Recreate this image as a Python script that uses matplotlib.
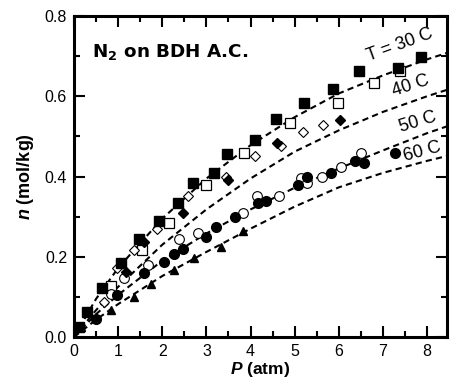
import matplotlib
matplotlib.use("Agg")
import matplotlib.pyplot as plt
from matplotlib.ticker import MultipleLocator

plt.rcParams['font.family'] = ['Liberation Sans', 'DejaVu Sans']
plt.rcParams['mathtext.fontset'] = 'custom'
plt.rcParams['mathtext.bf'] = 'DejaVu Sans:bold'
plt.rcParams['mathtext.bfit'] = 'Liberation Sans:italic:bold'

# 30 C filled squares
sq_f_x = [0.11, 0.30, 0.64, 1.06, 1.48, 1.93, 2.35, 2.69, 3.18, 3.47, 4.11, 4.58, 5.20, 5.86, 6.46, 7.35, 7.86]
sq_f_y = [0.026, 0.063, 0.122, 0.184, 0.245, 0.288, 0.334, 0.383, 0.409, 0.455, 0.491, 0.543, 0.583, 0.618, 0.663, 0.670, 0.699]
# open squares
sq_o_x = [0.83, 1.55, 2.16, 3.00, 3.85, 4.90, 5.98, 6.80, 7.39]
sq_o_y = [0.126, 0.218, 0.284, 0.378, 0.458, 0.534, 0.583, 0.634, 0.663]
# open diamonds
di_o_x = [0.67, 0.98, 1.35, 1.88, 2.59, 3.45, 4.10, 4.70, 5.18, 5.64]
di_o_y = [0.088, 0.172, 0.218, 0.269, 0.352, 0.399, 0.451, 0.476, 0.511, 0.528]
# filled diamonds
di_f_x = [1.17, 1.59, 2.48, 3.50, 4.60, 6.02]
di_f_y = [0.163, 0.238, 0.309, 0.391, 0.483, 0.540]
# open circles
ci_o_x = [0.83, 1.14, 1.67, 2.39, 2.80, 3.84, 4.14, 4.64, 5.14, 5.28, 5.63, 6.06, 6.50]
ci_o_y = [0.107, 0.147, 0.180, 0.244, 0.259, 0.308, 0.351, 0.351, 0.397, 0.383, 0.400, 0.423, 0.459]
# filled circles
ci_f_x = [0.49, 0.98, 1.59, 2.03, 2.27, 2.48, 2.99, 3.22, 3.65, 4.18, 4.35, 5.07, 5.28, 5.82, 6.36, 6.57, 7.27]
ci_f_y = [0.046, 0.105, 0.159, 0.188, 0.208, 0.220, 0.250, 0.274, 0.299, 0.333, 0.338, 0.379, 0.400, 0.408, 0.438, 0.434, 0.458]
# filled triangles
tr_x = [0.15, 0.83, 1.35, 1.74, 2.26, 2.73, 3.33, 3.84]
tr_y = [0.026, 0.067, 0.100, 0.133, 0.168, 0.196, 0.224, 0.264]

# fitted curves
fit_x = [0, 0.5, 1, 2, 3, 4, 5, 6, 7, 8, 8.45]
fit_30 = [0, 0.095, 0.172, 0.295, 0.395, 0.478, 0.548, 0.607, 0.652, 0.692, 0.708]
fit_40 = [0, 0.067, 0.125, 0.230, 0.318, 0.395, 0.462, 0.515, 0.561, 0.600, 0.616]
fit_50 = [0, 0.057, 0.105, 0.190, 0.258, 0.318, 0.372, 0.420, 0.465, 0.508, 0.525]
fit_60 = [0, 0.043, 0.082, 0.152, 0.212, 0.270, 0.325, 0.373, 0.409, 0.439, 0.451]

labels = ["T = 30 C", "40 C", "50 C", "60 C"]
label_x = [7.39, 7.62, 7.80, 7.90]
label_y = [0.728, 0.625, 0.535, 0.462]
label_rot = [20, 18, 17, 15]

fig = plt.figure(figsize=(4.51, 3.85), dpi=100)
ax = fig.add_axes([0.1641, 0.1247, 0.8269, 0.8337])

for fy in [fit_30, fit_40, fit_50, fit_60]:
    ax.plot(fit_x, fy, color='black', lw=1.5, linestyle=(0, (3, 2)), zorder=2)

ax.plot(sq_o_x, sq_o_y, 's', ms=6.5, mfc='white', mec='black', mew=0.9, ls='none', zorder=3)
ax.plot(di_o_x, di_o_y, 'D', ms=4.8, mfc='white', mec='black', mew=0.8, ls='none', zorder=3)
ax.plot(ci_o_x, ci_o_y, 'o', ms=7, mfc='white', mec='black', mew=0.8, ls='none', zorder=3)
ax.plot(sq_f_x, sq_f_y, 's', ms=7, color='black', ls='none', zorder=4)
ax.plot(di_f_x, di_f_y, 'D', ms=5, color='black', ls='none', zorder=4)
ax.plot(ci_f_x, ci_f_y, 'o', ms=7, color='black', ls='none', zorder=4)
ax.plot(tr_x, tr_y, '^', ms=6, color='black', ls='none', zorder=4)

for t, lx, ly, r in zip(labels, label_x, label_y, label_rot):
    ax.text(lx, ly, t, fontsize=13, rotation=r, ha='center', va='center', zorder=5)

ax.text(0.048, 0.872, r'N$_\mathbf{2}$ on BDH A.C.', transform=ax.transAxes,
        fontsize=13.2, fontweight='bold', family='DejaVu Sans', va='baseline')

ax.set_xlim(0, 8.45)
ax.set_ylim(0, 0.8)
ax.xaxis.set_major_locator(MultipleLocator(1))
ax.xaxis.set_minor_locator(MultipleLocator(0.5))
ax.yaxis.set_major_locator(MultipleLocator(0.2))
ax.yaxis.set_minor_locator(MultipleLocator(0.1))
ax.yaxis.set_major_formatter(plt.FormatStrFormatter('%.1f'))
ax.tick_params(which='both', direction='in', top=True, right=True, width=1.5, labelsize=11.5)
ax.tick_params(which='major', length=8)
ax.tick_params(which='minor', length=4)
ax.tick_params(axis='x', which='major', pad=5)
ax.tick_params(axis='y', which='major', pad=5)
for s in ax.spines.values():
    s.set_linewidth(2.2)

ax.set_xlabel(r'$\mathbfit{P}$ (atm)', fontsize=12.5, fontweight='bold', labelpad=1)
ax.set_ylabel(r'$\mathbfit{n}$ (mol/kg)', fontsize=13, fontweight='bold', labelpad=6)

fig.savefig('out.png', dpi=100)
